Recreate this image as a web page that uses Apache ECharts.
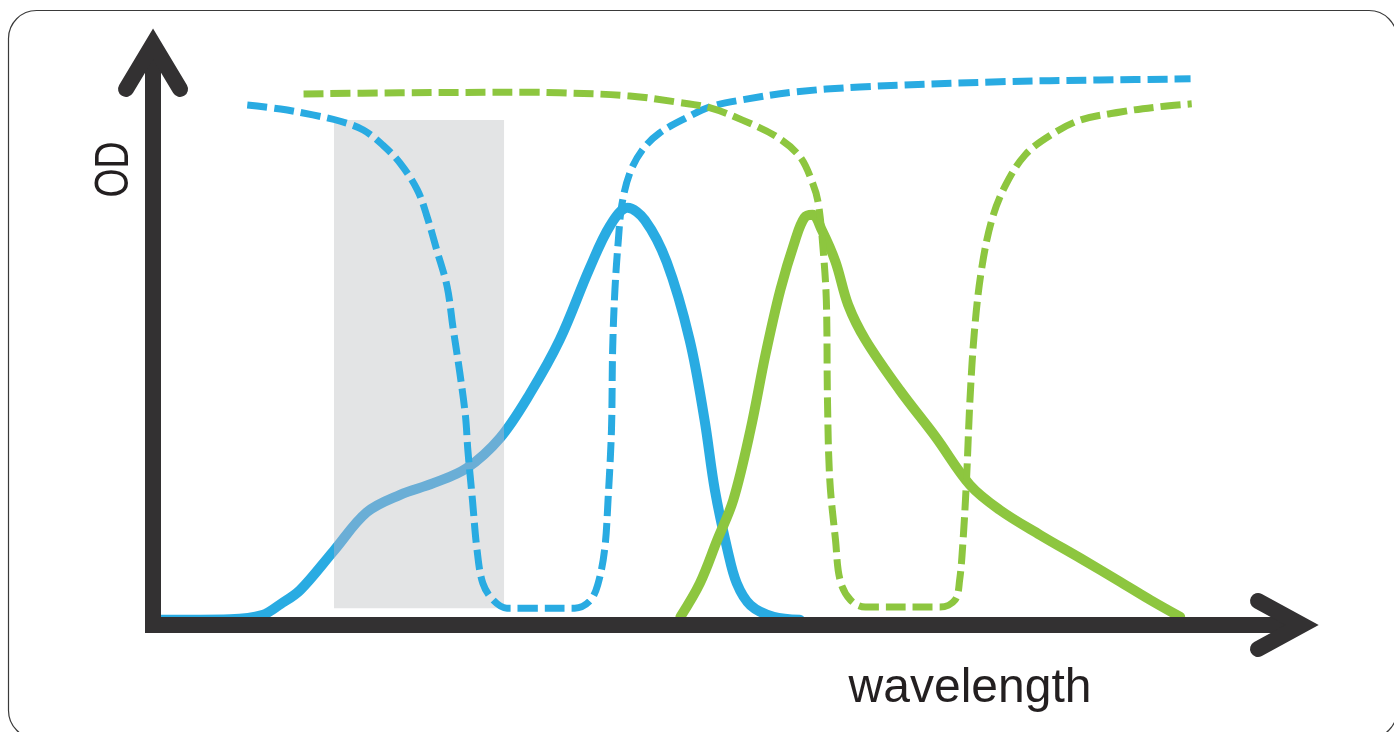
<!DOCTYPE html>
<html>
<head>
<meta charset="utf-8">
<script src="https://cdn.jsdelivr.net/npm/echarts@6/dist/echarts.min.js"></script>
<style>
html,body{margin:0;padding:0;background:#ffffff;}
#chart{width:1394px;height:732px;}
</style>
</head>
<body>
<div id="chart"></div>
<script>
// ---- data (wavelength 0-100, OD 0-100, arbitrary units) ----
const blueSpectrum = [
  [0.6,0.9],[6.7,1.0],[9.5,1.7],[11.1,3.6],[12.8,6.0],[15.7,12.7],[18.6,19.4],[21.5,22.4],
  [24.4,24.4],[27.3,27.0],[30.2,32.2],[32.8,39.8],[35.4,49.1],[38.0,61.4],[39.8,68.8],
  [41.3,71.8],[42.8,69.7],[44.7,62.5],[46.7,49.1],[48.0,35.3],[48.9,23.2],[50.0,12.9],
  [50.8,7.2],[52.0,3.4],[54.0,1.4],[56.3,0.9]
];
const greenSpectrum = [
  [45.9,1.4],[47.6,7.2],[49.1,14.6],[50.5,21.5],[52.0,33.6],[53.3,46.5],[54.6,57.7],
  [55.9,66.3],[56.7,70.1],[57.4,70.6],[58.2,68.0],[59.4,62.5],[60.5,55.1],[62.0,49.1],
  [65.0,40.4],[68.1,32.4],[71.1,24.1],[73.7,19.8],[77.2,15.5],[80.7,11.5],[84.2,7.4],
  [86.8,4.3],[89.4,1.4]
];
const blueFilter = [
  [8.2,89.5],[11.1,88.8],[13.9,87.8],[16.3,86.7],[18.3,85.2],[20.0,82.6],[21.5,79.5],
  [23.0,74.9],[23.8,70.6],[24.7,64.5],[25.6,58.2],[26.1,51.3],[26.7,43.4],[27.2,35.8],
  [27.4,30.1],[27.8,21.5],[28.2,12.9],[28.7,7.2],[29.6,4.3],[30.8,2.9],[32.8,2.9],
  [36.7,2.9],[38.0,4.1],[38.7,6.9],[39.3,12.9],[39.6,21.5],[39.9,33.6],[40.0,47.3],
  [40.2,57.7],[40.5,66.3],[40.8,72.3],[41.5,77.8],[42.6,81.8],[44.1,84.7],[46.5,87.4],
  [48.5,89.2],[51.3,90.4],[55.7,91.7],[61.5,92.6],[73.7,93.5],[82.4,93.8],[90.3,94.0]
];
const greenFilter = [
  [13.1,91.4],[21.5,91.6],[32.8,91.7],[35.4,91.6],[41.3,91.1],[45.6,90.0],[48.5,89.0],
  [51.3,86.9],[54.3,84.0],[56.3,80.6],[57.4,76.1],[57.9,72.6],[58.3,65.1],[58.6,55.9],
  [58.7,38.7],[58.9,25.0],[59.4,14.6],[59.8,7.7],[60.7,4.3],[62.0,3.1],[68.5,3.1],
  [69.8,4.3],[70.2,7.7],[70.5,14.6],[70.8,25.0],[71.1,38.7],[71.5,50.8],[72.1,61.1],
  [73.0,69.7],[74.2,75.7],[75.9,80.9],[78.1,84.3],[80.7,86.9],[84.2,88.3],[87.6,89.2],
  [90.4,89.7]
];
const bandX = [15.75, 30.55];
const bandY = [2.9, 86.9];
const xRange = [-0.7, 100];
const yRange = [-1.38, 100];
const xName = 'wavelength';
const yName = 'OD';

// ---- styles ----
const BLUE = '#29abe2';
const BLUE_MUTED = '#6aaed6';
const GREEN = '#8dc63f';
const AXIS = '#333132';
const TEXT = '#231f20';

const chart = echarts.init(document.getElementById('chart'), null, {renderer: 'canvas'});

const option = {
  animation: false,
  backgroundColor: '#ffffff',
  grid: {left: 145, top: 44, right: 92, bottom: 99, containLabel: false},
  xAxis: {
    type: 'value', min: xRange[0], max: xRange[1], z: 5,
    axisLine: {show: true, onZero: true, lineStyle: {color: AXIS, width: 16, cap: 'butt'}},
    axisTick: {show: false}, axisLabel: {show: false}, splitLine: {show: false}
  },
  yAxis: {
    type: 'value', min: yRange[0], max: yRange[1], z: 5,
    axisLine: {show: true, onZero: true, lineStyle: {color: AXIS, width: 16, cap: 'butt'}},
    axisTick: {show: false}, axisLabel: {show: false}, splitLine: {show: false}
  },
  visualMap: [{
    type: 'piecewise', show: false, dimension: 0, seriesIndex: 1,
    pieces: [
      {lt: bandX[0], color: BLUE},
      {gte: bandX[0], lte: bandX[1], color: BLUE_MUTED},
      {gt: bandX[1], color: BLUE}
    ]
  }],
  series: [
    {
      type: 'line', data: [], z: 1, silent: true,
      markArea: {
        silent: true,
        itemStyle: {color: '#e3e4e5', opacity: 1},
        data: [[{coord: [bandX[0], bandY[0]]}, {coord: [bandX[1], bandY[1]]}]]
      }
    },
    {
      type: 'line', data: blueSpectrum, smooth: 0.35, symbol: 'none', z: 2,
      lineStyle: {width: 10, cap: 'round'}
    },
    {
      type: 'line', data: greenSpectrum, smooth: 0.35, symbol: 'none', z: 3,
      lineStyle: {width: 10, color: GREEN, cap: 'round'}
    },
    {
      type: 'line', data: blueFilter, smooth: 0.35, symbol: 'none', z: 4,
      lineStyle: {width: 7, color: BLUE, type: [20, 7]}
    },
    {
      type: 'line', data: greenFilter, smooth: 0.35, symbol: 'none', z: 4,
      lineStyle: {width: 7, color: GREEN, type: [20, 7]}
    }
  ]
};
chart.setOption(option);

const xEnd = chart.convertToPixel({gridIndex: 0}, [xRange[1], 0]);
const yEnd = chart.convertToPixel({gridIndex: 0}, [0, yRange[1]]);
const origin = chart.convertToPixel({gridIndex: 0}, [0, 0]);

chart.setOption({
  graphic: [
    {
      id: 'frame', type: 'rect', z: 0, silent: true,
      shape: {x: 8.5, y: 10.5, width: 1388.5, height: 728, r: 28},
      style: {fill: 'none', stroke: '#3a3a3a', lineWidth: 1.2}
    },
    {
      id: 'xArrow', type: 'polyline', z: 20, silent: true,
      shape: {points: [[xEnd[0] - 44, xEnd[1] - 24], [xEnd[0], xEnd[1]], [xEnd[0] - 44, xEnd[1] + 24]]},
      style: {fill: 'none', stroke: AXIS, lineWidth: 16, lineCap: 'round', lineJoin: 'miter', miterLimit: 10}
    },
    {
      id: 'yArrow', type: 'polyline', z: 20, silent: true,
      shape: {points: [[yEnd[0] - 27, yEnd[1] + 45], [yEnd[0], yEnd[1]], [yEnd[0] + 27, yEnd[1] + 45]]},
      style: {fill: 'none', stroke: AXIS, lineWidth: 16, lineCap: 'round', lineJoin: 'miter', miterLimit: 10}
    },
    {
      id: 'yName', type: 'text', z: 20, silent: true,
      x: origin[0] - 38, y: 169.5, rotation: Math.PI / 2, scaleX: 0.78,
      style: {text: yName, font: '48px "Liberation Sans", Arial, sans-serif', fill: TEXT,
              textAlign: 'center', textVerticalAlign: 'middle', align: 'center', verticalAlign: 'middle'}
    },
    {
      id: 'xName', type: 'text', z: 20, silent: true,
      x: 970, y: 689,
      style: {text: xName, font: '48px "Liberation Sans", Arial, sans-serif', fill: TEXT,
              textAlign: 'center', textVerticalAlign: 'middle', align: 'center', verticalAlign: 'middle'}
    }
  ]
});
</script>
</body>
</html>
